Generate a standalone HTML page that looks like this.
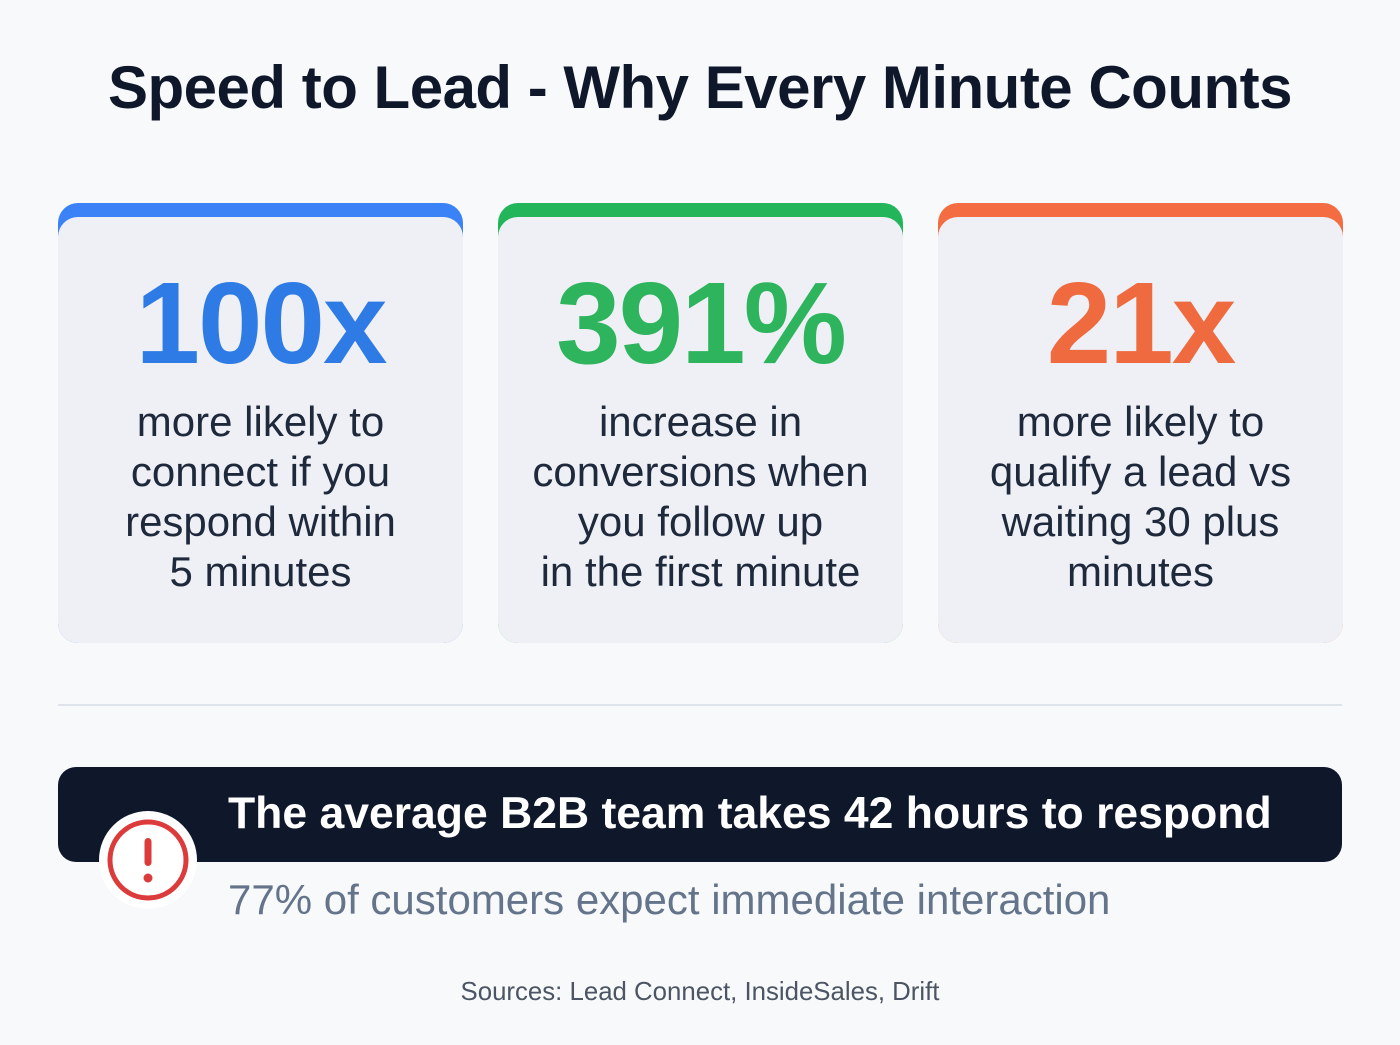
<!DOCTYPE html>
<html><head><meta charset="utf-8"><style>
*{margin:0;padding:0;box-sizing:border-box}
body{width:1400px;height:1045px;background:#f8f9fb;font-family:"Liberation Sans",sans-serif;position:relative;overflow:hidden}
.title{position:absolute;top:52px;left:0;width:1400px;text-align:center;font-size:60px;font-weight:700;color:#0f172a;letter-spacing:-0.5px;line-height:72px}
.card{position:absolute;top:203px;width:405px;height:440px;border-radius:20px}
.card .body{position:absolute;top:14px;left:0;right:0;bottom:0;background:#eef0f6;border-radius:20px;text-align:center}
.num{position:absolute;top:46px;left:0;width:100%;font-size:116px;font-weight:700;letter-spacing:-2px;line-height:120px}
.desc{position:absolute;top:180px;left:0;width:100%;font-size:42px;line-height:50px;color:#1e293b}
.divider{position:absolute;top:704px;left:58px;width:1284px;height:2px;background:#dfe3ea}
.banner{position:absolute;top:767px;left:58px;width:1284px;height:95px;background:#0f172a;border-radius:18px}
.banner-text{position:absolute;left:170px;top:20px;font-size:44.5px;font-weight:700;color:#fff;line-height:54px}
.alert{position:absolute;left:98px;top:810px;width:100px;height:100px}
.sub{position:absolute;left:228px;top:875px;font-size:42px;color:#64748b;line-height:50px}
.src{position:absolute;top:978px;left:0;width:1400px;text-align:center;font-size:25.8px;color:#4b5563}
</style></head><body>
<div class="title">Speed to Lead - Why Every Minute Counts</div>

<div class="card" style="left:58px;background:#3b82f6">
 <div class="body"><div class="num" style="color:#2f7be6">100x</div>
 <div class="desc">more likely to<br>connect if you<br>respond within<br>5 minutes</div></div></div>

<div class="card" style="left:498px;background:#22b55a">
 <div class="body"><div class="num" style="color:#2db45c">391%</div>
 <div class="desc">increase in<br>conversions when<br>you follow up<br>in the first minute</div></div></div>

<div class="card" style="left:938px;background:#f36c42">
 <div class="body"><div class="num" style="color:#f06a40">21x</div>
 <div class="desc">more likely to<br>qualify a lead vs<br>waiting 30 plus<br>minutes</div></div></div>

<div class="divider"></div>

<div class="banner">
 <div class="banner-text">The average B2B team takes 42 hours to respond</div></div>

<svg class="alert" viewBox="0 0 100 100">
 <circle cx="50" cy="50" r="49" fill="#fff"/>
 <circle cx="50" cy="50" r="38" fill="#fff" stroke="#dc3b3b" stroke-width="5"/>
 <rect x="46.5" y="28" width="7" height="28" rx="3.5" fill="#dc3b3b"/>
 <circle cx="50" cy="68" r="4.5" fill="#dc3b3b"/>
</svg>

<div class="sub">77% of customers expect immediate interaction</div>
<div class="src">Sources: Lead Connect, InsideSales, Drift</div>
</body></html>
